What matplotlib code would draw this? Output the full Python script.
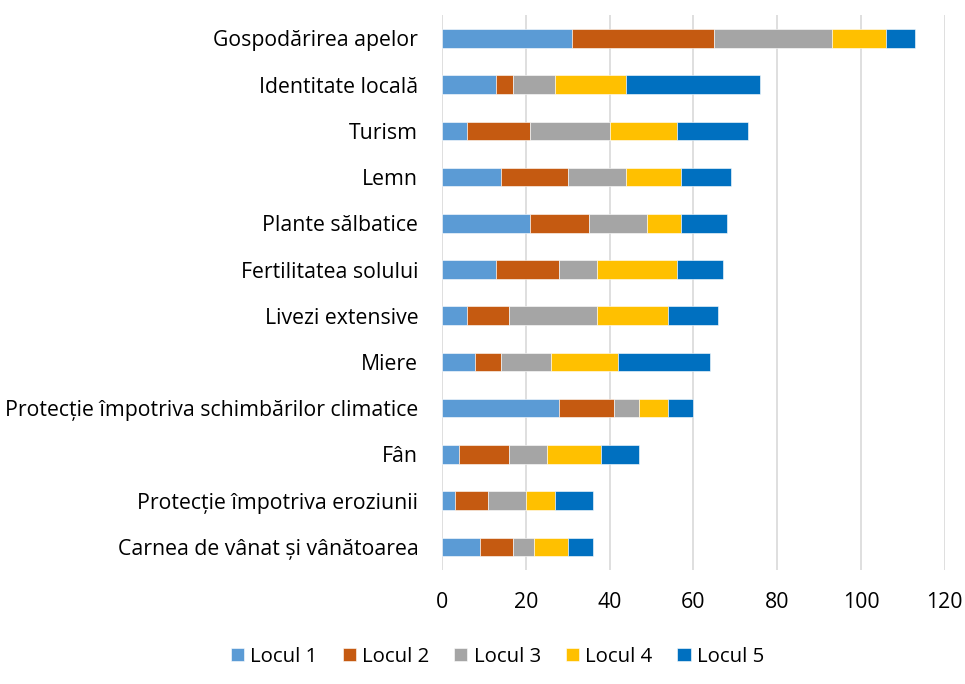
import matplotlib.pyplot as plt
import numpy as np

# categories, bottom to top
categorii = [
    'Carnea de vânat și vânătoarea',
    'Protecție împotriva eroziunii',
    'Fân',
    'Protecție împotriva schimbărilor climatice',
    'Miere',
    'Livezi extensive',
    'Fertilitatea solului',
    'Plante sălbatice',
    'Lemn',
    'Turism',
    'Identitate locală',
    'Gospodărirea apelor',
]

locul1 = [9, 3, 4, 28, 8, 6, 13, 21, 14, 6, 13, 31]
locul2 = [8, 8, 12, 13, 6, 10, 15, 14, 16, 15, 4, 34]
locul3 = [5, 9, 9, 6, 12, 21, 9, 14, 14, 19, 10, 28]
locul4 = [8, 7, 13, 7, 16, 17, 19, 8, 13, 16, 17, 13]
locul5 = [6, 9, 9, 6, 22, 12, 11, 11, 12, 17, 32, 7]

serii = ['Locul 1', 'Locul 2', 'Locul 3', 'Locul 4', 'Locul 5']
culori = ['#5B9BD5', '#C55A11', '#A5A5A5', '#FFC000', '#0070C0']

plt.rcParams['font.family'] = ['Open Sans', 'DejaVu Sans']

fig = plt.figure(figsize=(9.65, 6.84), dpi=100)
ax = fig.add_axes([0.458, 0.1667, 0.521, 0.811])

y = np.arange(len(categorii))
stanga = np.zeros(len(categorii))
for nume, val, c in zip(serii, [locul1, locul2, locul3, locul4, locul5], culori):
    ax.barh(y, val, left=stanga, height=0.4, color=c, label=nume,
            edgecolor='white', linewidth=0.4, zorder=3)
    stanga += np.array(val)

ax.set_xlim(0, 120)
ax.set_ylim(-0.5, len(categorii) - 0.5)
ax.set_xticks(range(0, 121, 20))
ax.set_yticks(y)
ax.set_yticklabels(categorii)
ax.tick_params(axis='both', length=0, colors='#000000')
ax.tick_params(axis='x', pad=16, labelsize=15.3)
ax.tick_params(axis='y', pad=17, labelsize=15.3)
ax.grid(axis='x', color='#d9d9d9', linewidth=1.2, zorder=0)
for s in ax.spines.values():
    s.set_visible(False)

fig.legend(loc='center', bbox_to_anchor=(0.5155, 0.04), ncol=5, frameon=False,
           fontsize=14.7, handlelength=0.65, handleheight=0.65, handletextpad=0.3,
           columnspacing=1.22)

fig.savefig('out.png', dpi=100)
